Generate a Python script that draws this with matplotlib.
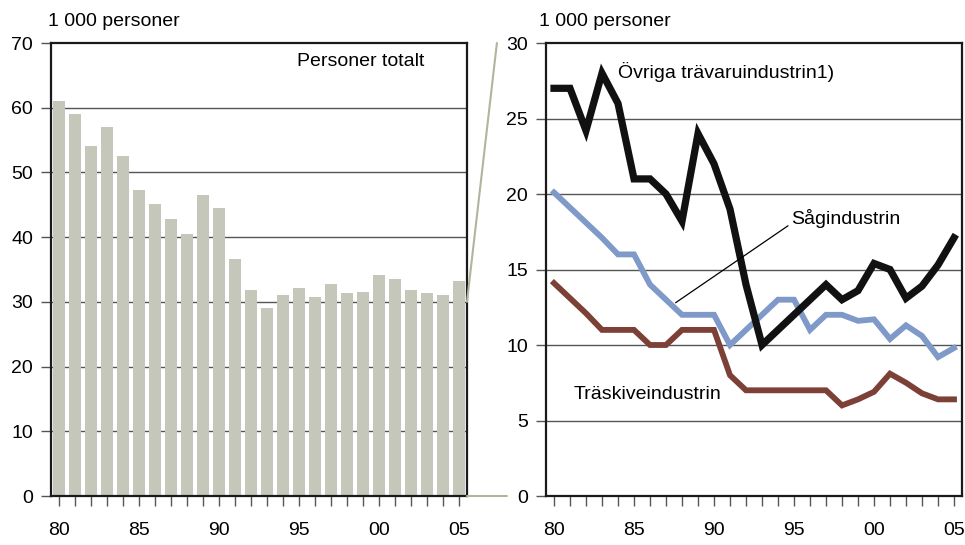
import matplotlib
matplotlib.use("Agg")
import matplotlib.pyplot as plt
from matplotlib.patches import ConnectionPatch

plt.rcParams['font.family'] = ['Liberation Sans', 'DejaVu Sans']
plt.rcParams['font.size'] = 14

# ---- data ----
years = list(range(1980, 2006))
totalt = [61.0, 59.0, 54.1, 57.0, 52.5, 47.3, 45.1, 42.8, 40.5, 46.5, 44.5, 36.7, 31.8,
          29.0, 31.0, 32.2, 30.8, 32.7, 31.3, 31.6, 34.1, 33.6, 31.9, 31.3, 31.0, 33.3]
ovriga = [27, 27, 24.2, 28, 26, 21, 21, 20, 18.2, 24, 22, 19, 14,
          10, 11, 12, 13, 14, 13, 13.6, 15.4, 15.0, 13.1, 13.9, 15.3, 17.1]
sag = [20.1, 19.1, 18.1, 17.1, 16, 16, 14, 13, 12, 12, 12, 10, 11,
       12, 13, 13, 11, 12, 12, 11.6, 11.7, 10.4, 11.3, 10.6, 9.2, 9.8]
traskiva = [14.1, 13.1, 12.1, 11, 11, 11, 10, 10, 11, 11, 11, 8, 7,
            7, 7, 7, 7, 7, 6, 6.4, 6.9, 8.1, 7.5, 6.8, 6.4, 6.4]
xticks = [1980, 1985, 1990, 1995, 2000, 2005]
xlabels = ['80', '85', '90', '95', '00', '05']

BAR = '#c4c7ba'
GRID = '#555555'

fig = plt.figure(figsize=(9.65, 5.45), dpi=100)
axL = fig.add_axes([0.0528, 0.0899, 0.4311, 0.8312])
axR = fig.add_axes([0.5658, 0.0899, 0.4311, 0.8312])


def style(ax, ymax, ystep):
    ax.set_xlim(1979.5, 2005.5)
    ax.set_ylim(0, ymax)
    ax.set_yticks(range(0, ymax + 1, ystep))
    ax.set_xticks(xticks)
    ax.set_xticklabels(xlabels)
    ax.set_xticks(years, minor=True)
    ax.tick_params(axis='y', length=7, width=1, color=GRID, pad=6)
    ax.tick_params(axis='x', which='both', length=7, width=1, color=GRID, pad=12)
    for s in ax.spines.values():
        s.set_linewidth(1.6)
        s.set_color('#1a1a1a')
    for v in range(ystep, ymax, ystep):
        ax.axhline(v, color=GRID, lw=1, zorder=0)


style(axL, 70, 10)
style(axR, 30, 5)

# vänster: staplar
axL.bar(years, totalt, width=0.73, color=BAR, zorder=2)
axL.text(1994.9, 67.1, 'Personer totalt', va='center')
fig.text(0.05, 0.96, '1 000 personer', va='center')

# höger: linjer
axR.plot(years, ovriga, color='#111111', lw=5.2, solid_joinstyle='miter', zorder=3)
axR.plot(years, sag, color='#7f99c8', lw=4.2, solid_joinstyle='miter', zorder=2)
axR.plot(years, traskiva, color='#7d4037', lw=4.2, solid_joinstyle='miter', zorder=2)
axR.text(1984.0, 28.1, 'Övriga trävaruindustrin1)', va='center')
axR.annotate('Sågindustrin', xy=(1987.6, 12.8), xytext=(1994.8, 18.4), va='center',
             arrowprops=dict(arrowstyle='-', color='black', lw=0.9,
                             shrinkA=0, shrinkB=0, relpos=(0, 0.2)))
axR.text(1981.2, 6.7, 'Träskiveindustrin', va='center')
fig.text(0.559, 0.96, '1 000 personer', va='center')

# förbindelselinjer mellan diagrammen
con1 = ConnectionPatch(xyA=(1, 30), coordsA=axL.get_yaxis_transform(),
                       xyB=(-0.118, 30), coordsB=axR.get_yaxis_transform(),
                       color='#b3b39e', lw=1.5)
con2 = ConnectionPatch(xyA=(1, 0), coordsA=axL.get_yaxis_transform(),
                       xyB=(-0.094, 0), coordsB=axR.get_yaxis_transform(),
                       color='#b3b39e', lw=1.5)
fig.add_artist(con1)
fig.add_artist(con2)

fig.savefig('out.png', dpi=100)
